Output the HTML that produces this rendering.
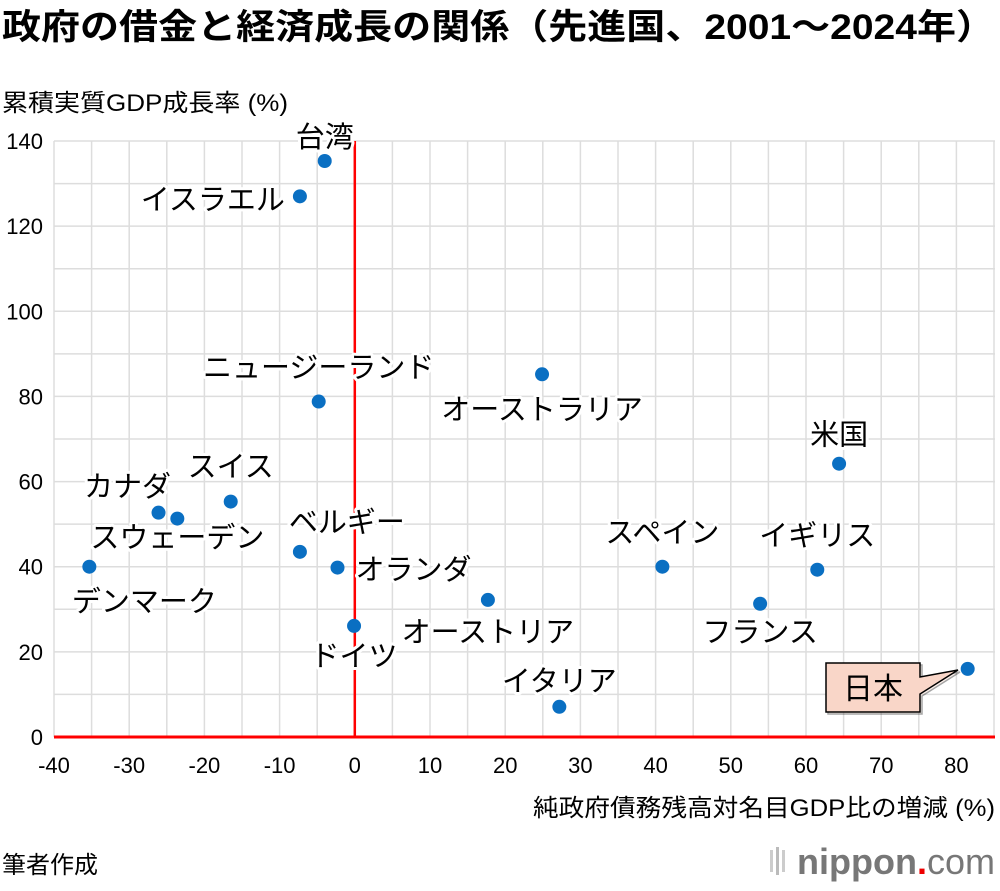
<!DOCTYPE html>
<html><head><meta charset="utf-8"><style>
html,body{margin:0;padding:0;background:#fff;}
svg text{font-family:"Liberation Sans","Noto Sans CJK JP",sans-serif;}
.lbl{font-size:29px;fill:#000;stroke:#fff;stroke-width:6px;paint-order:stroke;stroke-linejoin:round;}
.tick{font-size:22px;fill:#000;}
</style></head><body>
<svg id="chart" width="1000" height="886" viewBox="0 0 1000 886" xmlns="http://www.w3.org/2000/svg">
<text x="2" y="39" font-size="35" font-weight="bold" textLength="993" lengthAdjust="spacingAndGlyphs">政府の借金と経済成長の関係（先進国、2001～2024年）</text>
<text x="2" y="111" font-size="24" textLength="286" lengthAdjust="spacingAndGlyphs">累積実質GDP成長率 (%)</text>
<text x="533" y="816" font-size="24" textLength="462" lengthAdjust="spacingAndGlyphs">純政府債務残高対名目GDP比の増減 (%)</text>
<text x="2" y="873" font-size="24">筆者作成</text>
<g>
<text x="995" y="874" font-size="36" text-anchor="end" fill="#777" font-weight="bold"><tspan>nippon</tspan><tspan fill="#e00">.</tspan><tspan font-weight="normal">com</tspan></text>
<rect x="770" y="850" width="3" height="22" fill="#ccc"/><rect x="776" y="847" width="3" height="28" fill="#bbb"/><rect x="782" y="850" width="3" height="22" fill="#ccc"/>
</g>
<g id="grid"></g><g id="axes"></g><g id="marks"></g><g id="labels"></g>
<g>
<path d="M826,663 H920 V677 L958,670 L920,694 V712 H826 Z" fill="#f9d6c8" stroke="#000" stroke-width="1.5" transform="translate(2,2)" opacity="0.35"/>
<path d="M826,663 H920 V677 L958,670 L920,694 V712 H826 Z" fill="#f9d6c8" stroke="#000" stroke-width="1.5"/>
<text x="873" y="699" font-size="30" text-anchor="middle">日本</text>
</g>
</svg>
<script>
const countries=["台湾","イスラエル","ニュージーランド","オーストラリア","米国","スイス","カナダ","スウェーデン","ベルギー","オランダ","デンマーク","スペイン","イギリス","オーストリア","フランス","ドイツ","イタリア","日本"];
const debtChange=[-4.0,-7.3,-4.8,24.9,64.4,-16.5,-26.1,-23.6,-7.3,-2.3,-35.3,40.9,61.5,17.7,53.9,-0.1,27.2,81.5];
const gdpGrowth=[135.3,127,78.8,85.2,64.2,55.3,52.7,51.3,43.5,39.8,40,40,39.3,32.2,31.3,26.1,7.1,16];
const xTicks=[-40,-30,-20,-10,0,10,20,30,40,50,60,70,80];
const yTicks=[0,20,40,60,80,100,120,140];
// label offsets relative to point: [dx,dy,anchor]
const labelPos=[[0,-14,"middle"],[-15,13,"end"],[0,-24,"middle"],[0,45,"middle"],[0,-19,"middle"],[0,-25,"middle"],[-31,-16,"middle"],[0,29,"middle"],[47,-20,"middle"],[18,12,"start"],[55,45,"middle"],[0,-24,"middle"],[0,-24,"middle"],[0,42,"middle"],[0,38,"middle"],[0,40,"middle"],[0,-16,"middle"],null];
const NS="http://www.w3.org/2000/svg";
const X0=54,X1=995,Y0=737,Ytop=141;
const xs=v=>X0+(v+40)*7.52;
const ys=v=>Y0-v*(Y0-Ytop)/140;
function mk(t,a,p){const e=document.createElementNS(NS,t);for(const k in a)e.setAttribute(k,a[k]);p.appendChild(e);return e;}
const grid=document.getElementById('grid'),axes=document.getElementById('axes'),marks=document.getElementById('marks'),labels=document.getElementById('labels');
for(let v=-40;xs(v)<=X1;v+=5){const l=mk('line',{x1:xs(v),x2:xs(v),y1:Ytop,y2:Y0,stroke:'#ddd','stroke-width':1.5},grid);

}
for(let v=0;v<=140;v+=10){const l=mk('line',{x1:X0,x2:X1,y1:ys(v),y2:ys(v),stroke:'#ddd','stroke-width':1.5},grid);

}
xTicks.forEach(v=>{const t=mk('text',{x:xs(v),y:Y0+36,'text-anchor':'middle',class:'tick'},axes);t.textContent=v;

});
yTicks.forEach(v=>{const t=mk('text',{x:43,y:ys(v)+8,'text-anchor':'end',class:'tick'},axes);t.textContent=v;

});
const zl=mk('line',{x1:X0,x2:X1,y1:Y0,y2:Y0,stroke:'#f00','stroke-width':3},axes);


const vl=mk('line',{x1:xs(0),x2:xs(0),y1:Ytop,y2:Y0,stroke:'#f00','stroke-width':2.5},axes);


countries.forEach((c,i)=>{const px=xs(debtChange[i]),py=ys(gdpGrowth[i]);
const d=mk('circle',{cx:px,cy:py,r:7,fill:'#0a6fc2'},marks);


const p=labelPos[i];if(!p)return;
const t=mk('text',{x:px+p[0],y:py+p[1],'text-anchor':p[2],class:'lbl'},labels);t.textContent=c;

});
</script>
</body></html>
